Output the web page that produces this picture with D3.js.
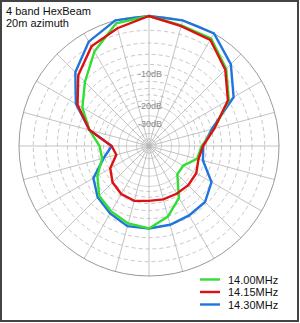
<!DOCTYPE html>
<html>
<head>
<meta charset="utf-8">
<script src="https://cdn.jsdelivr.net/npm/d3@7"></script>
<style>
body { margin: 0; background: #fff; }
svg { display: block; font-family: "Liberation Sans", Arial, sans-serif; }
</style>
</head>
<body>
<div id="chart"></div>
<script>
// azimuth in degrees, clockwise from the front (top)
var angles = d3.range(0, 360, 15);

// gain in dB relative to max, one value per angle
var gain1400 = [0, -0.7, -0.8, -3.0, -5.9, -11.2, -15.5, -16.5, -20.5, -20.2, -13.3, -9.9,
                -7.8, -8.3, -9.3, -10.5, -13.4, -16.9, -16.6, -12.8, -9.0, -6.2, -3.0, -0.4];
var gain1415 = [0, -0.8, -1.0, -3.2, -6.1, -11.2, -15.1, -16.0, -14.9, -14.6, -14.7, -14.7,
                -14.8, -14.2, -14.6, -15.9, -18.3, -23.1, -21.4, -12.8, -7.8, -4.5, -2.1, -1.1];
var gain1430 = [0, 0, 0, -2.0, -4.9, -11.9, -15.0, -14.5, -10.1, -8.5, -8.3, -8.0,
                -7.8, -7.7, -8.8, -10.0, -12.1, -17.5, -21.4, -12.8, -7.4, -3.8, -1.3, 0];

var seriesNames = ["14.00MHz", "14.15MHz", "14.30MHz"];
var seriesColors = ["#33dd33", "#dd1111", "#1f74dd"];

// grid rings (dB)
var dashedRings = [-2, -4, -6, -8, -10, -12, -14, -16, -18];
var solidRings = [-20, -25, -30, -40, -50];
var ringLabels = [-10, -20, -30];

var titleLines = ["4 band HexBeam", "20m azimuth"];

var width = 300, height = 323;
var cx = 149, cy = 146, R = 130;

var svg = d3.select("#chart").append("svg")
    .attr("width", width)
    .attr("height", height);

svg.append("rect")
    .attr("x", 1).attr("y", 1)
    .attr("width", width - 3).attr("height", height - 3)
    .attr("fill", "#fff")
    .attr("stroke", "#444")
    .attr("stroke-width", 2);

// ARRL style log-periodic scale: radius = R * p^0.253, p = relative power
var rScale = d3.scalePow().exponent(0.25305).domain([0, 1]).range([0, R]);
function r(db) { return rScale(Math.pow(10, db / 10)); }

var g = svg.append("g").attr("transform", "translate(" + cx + "," + cy + ")");

g.selectAll(".solid-ring").data(solidRings).enter().append("circle")
    .attr("r", function(d) { return r(d); })
    .attr("fill", "none")
    .attr("stroke", "#c8c8c8")
    .attr("stroke-width", 0.8);

g.selectAll(".dashed-ring").data(dashedRings).enter().append("circle")
    .attr("r", function(d) { return r(d); })
    .attr("fill", "none")
    .attr("stroke", "#b8b8b8")
    .attr("stroke-width", 0.8)
    .attr("stroke-dasharray", "4,3");

// spokes every 15 degrees
g.selectAll(".spoke").data(angles).enter().append("line")
    .attr("x1", 0).attr("y1", 0)
    .attr("x2", function(d) { return R * Math.sin(d * Math.PI / 180); })
    .attr("y2", function(d) { return -R * Math.cos(d * Math.PI / 180); })
    .attr("stroke", "#b4b4b4")
    .attr("stroke-width", 0.8);

g.append("circle")
    .attr("r", R)
    .attr("fill", "none")
    .attr("stroke", "#999")
    .attr("stroke-width", 1);

g.selectAll(".ring-label").data(ringLabels).enter().append("text")
    .attr("x", 1)
    .attr("y", function(d) { return -r(d) + 1; })
    .attr("text-anchor", "middle")
    .attr("dominant-baseline", "middle")
    .attr("font-size", "9px")
    .attr("fill", "#8a8a8a")
    .text(function(d) { return d + "dB"; });

var line = d3.lineRadial()
    .angle(function(d) { return d[0] * Math.PI / 180; })
    .radius(function(d) { return r(d[1]); })
    .curve(d3.curveLinearClosed);

var series = [gain1400, gain1415, gain1430];
var drawOrder = [2, 0, 1];

drawOrder.forEach(function(i) {
    var pts = angles.map(function(a, j) { return [a, series[i][j]]; });
    g.append("path")
        .attr("d", line(pts))
        .attr("fill", "none")
        .attr("stroke", seriesColors[i])
        .attr("stroke-width", 2.4)
        .attr("stroke-linejoin", "miter");
});

svg.selectAll(".title").data(titleLines).enter().append("text")
    .attr("x", 6)
    .attr("y", function(d, i) { return 15 + i * 12; })
    .attr("font-size", "11px")
    .attr("fill", "#111")
    .text(function(d) { return d; });

var legend = svg.append("g");
seriesNames.forEach(function(name, i) {
    var y = 279.5 + i * 12.5;
    legend.append("line")
        .attr("x1", 200).attr("x2", 220)
        .attr("y1", y).attr("y2", y)
        .attr("stroke", seriesColors[i])
        .attr("stroke-width", 2.4);
    legend.append("text")
        .attr("x", 228)
        .attr("y", y + 4)
        .attr("font-size", "11px")
        .attr("fill", "#111")
        .text(name);
});
</script>
</body>
</html>
